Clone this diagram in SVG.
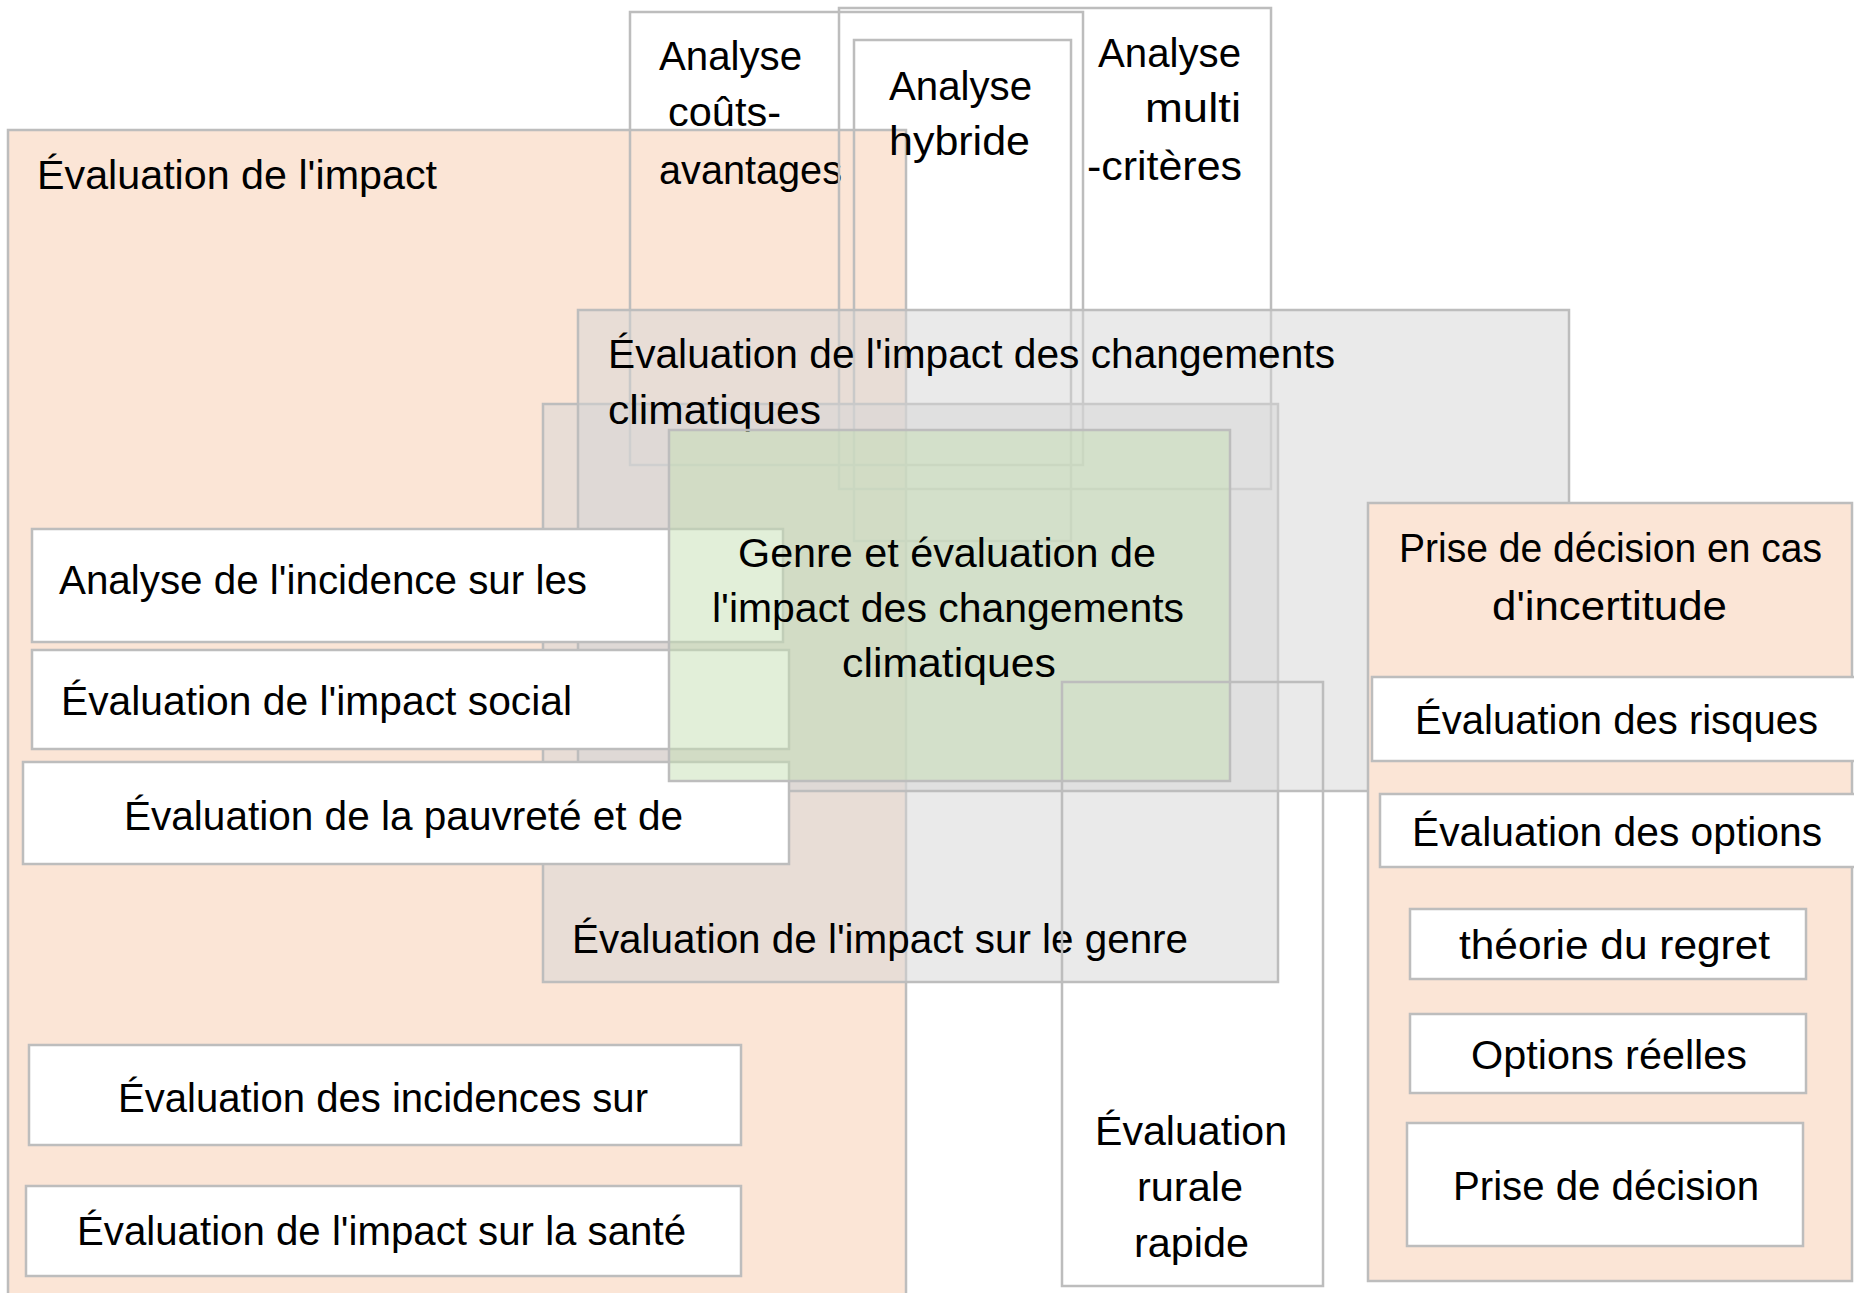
<svg xmlns="http://www.w3.org/2000/svg" width="1854" height="1293" viewBox="0 0 1854 1293">
<style>
.b{stroke:#bdbdbd;stroke-width:2.5}
.o{fill:#fbe5d6}
.n{fill:none}
.w{fill:#ffffff}
.g{fill:#d6d6d6;fill-opacity:0.5}
.gr{fill:#c5e0b4;fill-opacity:0.5}
text{font-family:"Liberation Sans Narrow","Liberation Sans",Arial,sans-serif;font-size:41px;fill:#000}
</style>
<rect width="1854" height="1293" fill="#ffffff"/>
<g id="impact">
<rect class="b o" x="8" y="130" width="898" height="1175"/>
<text x="37" y="189" textLength="400" lengthAdjust="spacingAndGlyphs">Évaluation de l'impact</text>
</g>
<g id="cout-avantages">
<rect class="b n" x="630" y="12" width="453" height="453"/>
<text x="659" y="70" textLength="143" lengthAdjust="spacingAndGlyphs">Analyse</text>
<text x="668" y="126" textLength="113" lengthAdjust="spacingAndGlyphs">coûts-</text>
<text x="659" y="184" textLength="183" lengthAdjust="spacingAndGlyphs">avantages</text>
</g>
<g id="multi-criteres">
<rect class="b n" x="839" y="8" width="432" height="481"/>
<text x="1098" y="67" textLength="143" lengthAdjust="spacingAndGlyphs">Analyse</text>
<text x="1145" y="122" textLength="96" lengthAdjust="spacingAndGlyphs">multi</text>
<text x="1087" y="180" textLength="155" lengthAdjust="spacingAndGlyphs">-critères</text>
</g>
<g id="hybride">
<rect class="b n" x="854" y="40" width="217" height="501"/>
<text x="889" y="100" textLength="143" lengthAdjust="spacingAndGlyphs">Analyse</text>
<text x="889" y="155" textLength="141" lengthAdjust="spacingAndGlyphs">hybride</text>
</g>
<g id="impact-genre">
<rect class="b g" x="543" y="404" width="735" height="578"/>
<text x="572" y="953" textLength="616" lengthAdjust="spacingAndGlyphs">Évaluation de l'impact sur le genre</text>
</g>
<g id="impact-cc">
<rect class="b g" x="578" y="310" width="991" height="481"/>
<text x="608" y="368" textLength="727" lengthAdjust="spacingAndGlyphs">Évaluation de l'impact des changements</text>
<text x="608" y="424" textLength="213" lengthAdjust="spacingAndGlyphs">climatiques</text>
</g>
<g id="incidence">
<rect class="b w" x="32" y="529" width="751" height="113"/>
<text x="59" y="594" textLength="528" lengthAdjust="spacingAndGlyphs">Analyse de l'incidence sur les</text>
</g>
<g id="social">
<rect class="b w" x="32" y="650" width="757" height="99"/>
<text x="61" y="715" textLength="511" lengthAdjust="spacingAndGlyphs">Évaluation de l'impact social</text>
</g>
<g id="pauvrete">
<rect class="b w" x="23" y="762" width="766" height="102"/>
<text x="124" y="830" textLength="559" lengthAdjust="spacingAndGlyphs">Évaluation de la pauvreté et de</text>
</g>
<g id="incidences">
<rect class="b w" x="29" y="1045" width="712" height="100"/>
<text x="118" y="1112" textLength="530" lengthAdjust="spacingAndGlyphs">Évaluation des incidences sur</text>
</g>
<g id="sante">
<rect class="b w" x="26" y="1186" width="715" height="90"/>
<text x="77" y="1245" textLength="609" lengthAdjust="spacingAndGlyphs">Évaluation de l'impact sur la santé</text>
</g>
<g id="genre-cc">
<rect class="b gr" x="669" y="430" width="561" height="351"/>
<text x="738" y="567" textLength="418" lengthAdjust="spacingAndGlyphs">Genre et évaluation de</text>
<text x="712" y="622" textLength="472" lengthAdjust="spacingAndGlyphs">l'impact des changements</text>
<text x="842" y="677" textLength="214" lengthAdjust="spacingAndGlyphs">climatiques</text>
</g>
<g id="rurale">
<rect class="b n" x="1062" y="682" width="261" height="604"/>
<text x="1095" y="1145" textLength="192" lengthAdjust="spacingAndGlyphs">Évaluation</text>
<text x="1137" y="1201" textLength="106" lengthAdjust="spacingAndGlyphs">rurale</text>
<text x="1134" y="1257" textLength="115" lengthAdjust="spacingAndGlyphs">rapide</text>
</g>
<g id="incertitude">
<rect class="b o" x="1368" y="503" width="484" height="778"/>
<text x="1399" y="562" textLength="423" lengthAdjust="spacingAndGlyphs">Prise de décision en cas</text>
<text x="1492" y="620" textLength="235" lengthAdjust="spacingAndGlyphs">d'incertitude</text>
</g>
<g id="risques">
<rect class="b w" x="1372" y="677" width="490" height="84"/>
<text x="1415" y="734" textLength="403" lengthAdjust="spacingAndGlyphs">Évaluation des risques</text>
</g>
<g id="options">
<rect class="b w" x="1380" y="794" width="482" height="73"/>
<text x="1412" y="846" textLength="410" lengthAdjust="spacingAndGlyphs">Évaluation des options</text>
</g>
<g id="regret">
<rect class="b w" x="1410" y="909" width="396" height="70"/>
<text x="1459" y="959" textLength="311" lengthAdjust="spacingAndGlyphs">théorie du regret</text>
</g>
<g id="options-reelles">
<rect class="b w" x="1410" y="1014" width="396" height="79"/>
<text x="1471" y="1069" textLength="276" lengthAdjust="spacingAndGlyphs">Options réelles</text>
</g>
<g id="prise-decision">
<rect class="b w" x="1407" y="1123" width="396" height="123"/>
<text x="1453" y="1200" textLength="306" lengthAdjust="spacingAndGlyphs">Prise de décision</text>
</g>
<g id="connectors"></g>
</svg>
